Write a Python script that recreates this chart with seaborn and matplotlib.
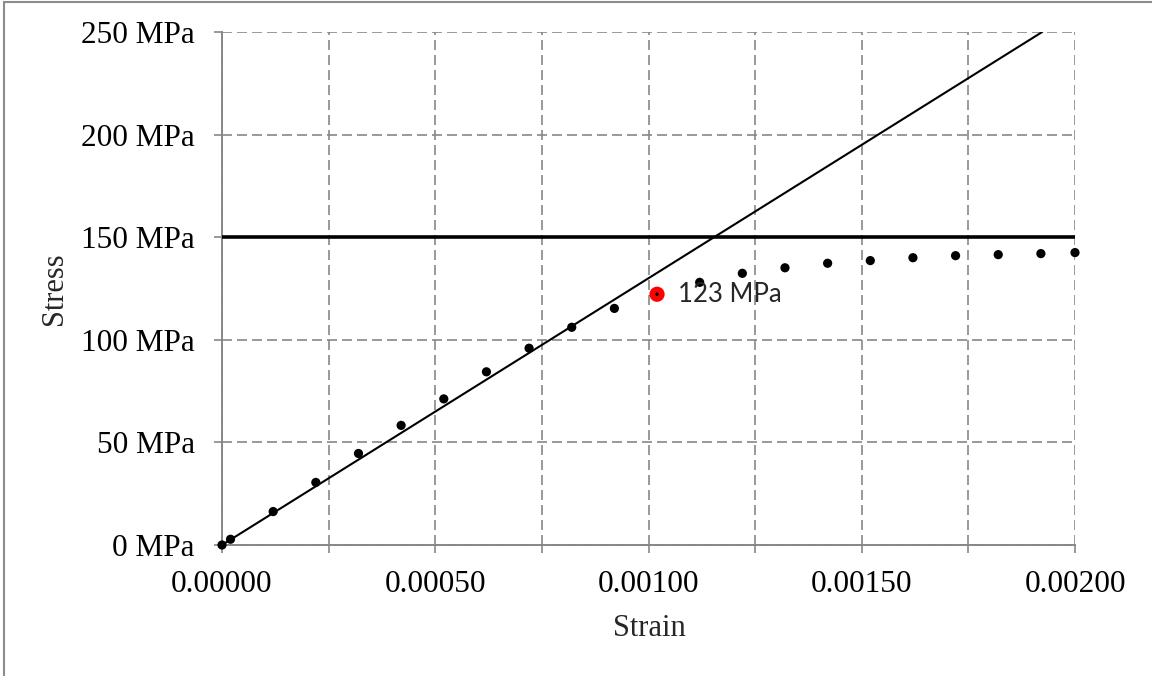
import numpy as np
import pandas as pd
import seaborn as sns
import matplotlib.pyplot as plt
from matplotlib.lines import Line2D

# measured points (strain, stress in MPa)
strain = [0.0, 0.00002, 0.00012, 0.00022, 0.00032, 0.00042, 0.00052, 0.00062,
          0.00072, 0.00082, 0.00092, 0.00102, 0.00112, 0.00122, 0.00132,
          0.00142, 0.00152, 0.00162, 0.00172, 0.00182, 0.00192, 0.00200]
stress = [0.0, 2.8, 16.3, 30.5, 44.6, 58.3, 71.2, 84.4,
          95.9, 106.1, 115.3, 122.2, 128.0, 132.4, 135.1,
          137.3, 138.6, 140.0, 141.0, 141.5, 142.0, 142.5]

# highlighted point
peak_strain = [0.00102]
peak_stress = [122.2]
peak_label = "123 MPa"

# elastic line (E about 130 GPa) and yield level
elastic_strain = [0.0, 0.001923]
elastic_stress = [0.0, 250.0]
yield_strain = [0.0, 0.002]
yield_stress = [150.0, 150.0]

x_ticks = [0.0, 0.00025, 0.0005, 0.00075, 0.001, 0.00125, 0.0015, 0.00175, 0.002]
y_ticks = [0, 50, 100, 150, 200, 250]

df = pd.DataFrame({"Strain": strain, "Stress": stress})

sns.set_style("white")
plt.rcParams['font.family'] = ['Liberation Serif', 'DejaVu Serif']

fig = plt.figure(figsize=(11.52, 6.76), dpi=100)
ax = fig.add_axes([222 / 1152, 1 - 545 / 676, 853 / 1152, 513 / 676])

grid_col = '#878787'

sns.lineplot(x=elastic_strain, y=elastic_stress, ax=ax, color='black', linewidth=1.5, zorder=3)
sns.lineplot(x=yield_strain, y=yield_stress, ax=ax, color='black', linewidth=2.6, zorder=3)
sns.scatterplot(data=df, x='Strain', y='Stress', ax=ax, color='black', s=44,
                edgecolor='none', zorder=4, clip_on=False)
sns.scatterplot(x=peak_strain, y=peak_stress, ax=ax, color='#ff0000', s=120,
                edgecolor='none', zorder=5)
sns.scatterplot(x=peak_strain, y=peak_stress, ax=ax, color='black', s=6,
                edgecolor='none', zorder=6)
ax.text(peak_strain[0] + 0.000048, peak_stress[0], peak_label, fontsize=18.5,
        family=['Lato', 'DejaVu Sans'], ha='left', va='center', zorder=6)

ax.set_xlim(0, 0.002)
ax.set_ylim(0, 250)
ax.set_xticks(x_ticks)
ax.set_xticklabels([f"{v:.5f}" if i % 2 == 0 else "" for i, v in enumerate(x_ticks)])
ax.set_yticks(y_ticks)
ax.set_yticklabels([f"{v} MPa" for v in y_ticks])

ax.grid(True, color=grid_col, linestyle=(0, (6, 3)), linewidth=1.2)
ax.set_axisbelow(True)
for side in ['top', 'right']:
    ax.spines[side].set_visible(False)
for side in ['left', 'bottom']:
    ax.spines[side].set_color(grid_col)
    ax.spines[side].set_linewidth(1.4)
    ax.spines[side].set_zorder(2)

ax.tick_params(axis='both', which='major', direction='out', length=6, width=1.2,
               color=grid_col, labelsize=22.5, labelcolor='black')
ax.tick_params(axis='y', pad=13.5)
ax.tick_params(axis='x', pad=12)
ax.tick_params(axis='both', left=True, bottom=True)

ax.set_xlabel('')
ax.set_ylabel('')
fig.text(54 / 1152, 1 - 289 / 676, 'Stress', rotation=90, fontsize=22,
         ha='center', va='center')
fig.text(649 / 1152, 1 - 629 / 676, 'Strain', fontsize=22, ha='center', va='center')

# outer frame edges (top and left only, as in the screenshot)
fig.add_artist(Line2D([3.5 / 1152, 1], [1 - 2 / 676, 1 - 2 / 676], transform=fig.transFigure,
                      color='#8c8c8c', linewidth=1.5))
fig.add_artist(Line2D([3.5 / 1152, 3.5 / 1152], [0, 1 - 2 / 676], transform=fig.transFigure,
                      color='#8c8c8c', linewidth=1.5))

fig.savefig('out.png', dpi=100)
